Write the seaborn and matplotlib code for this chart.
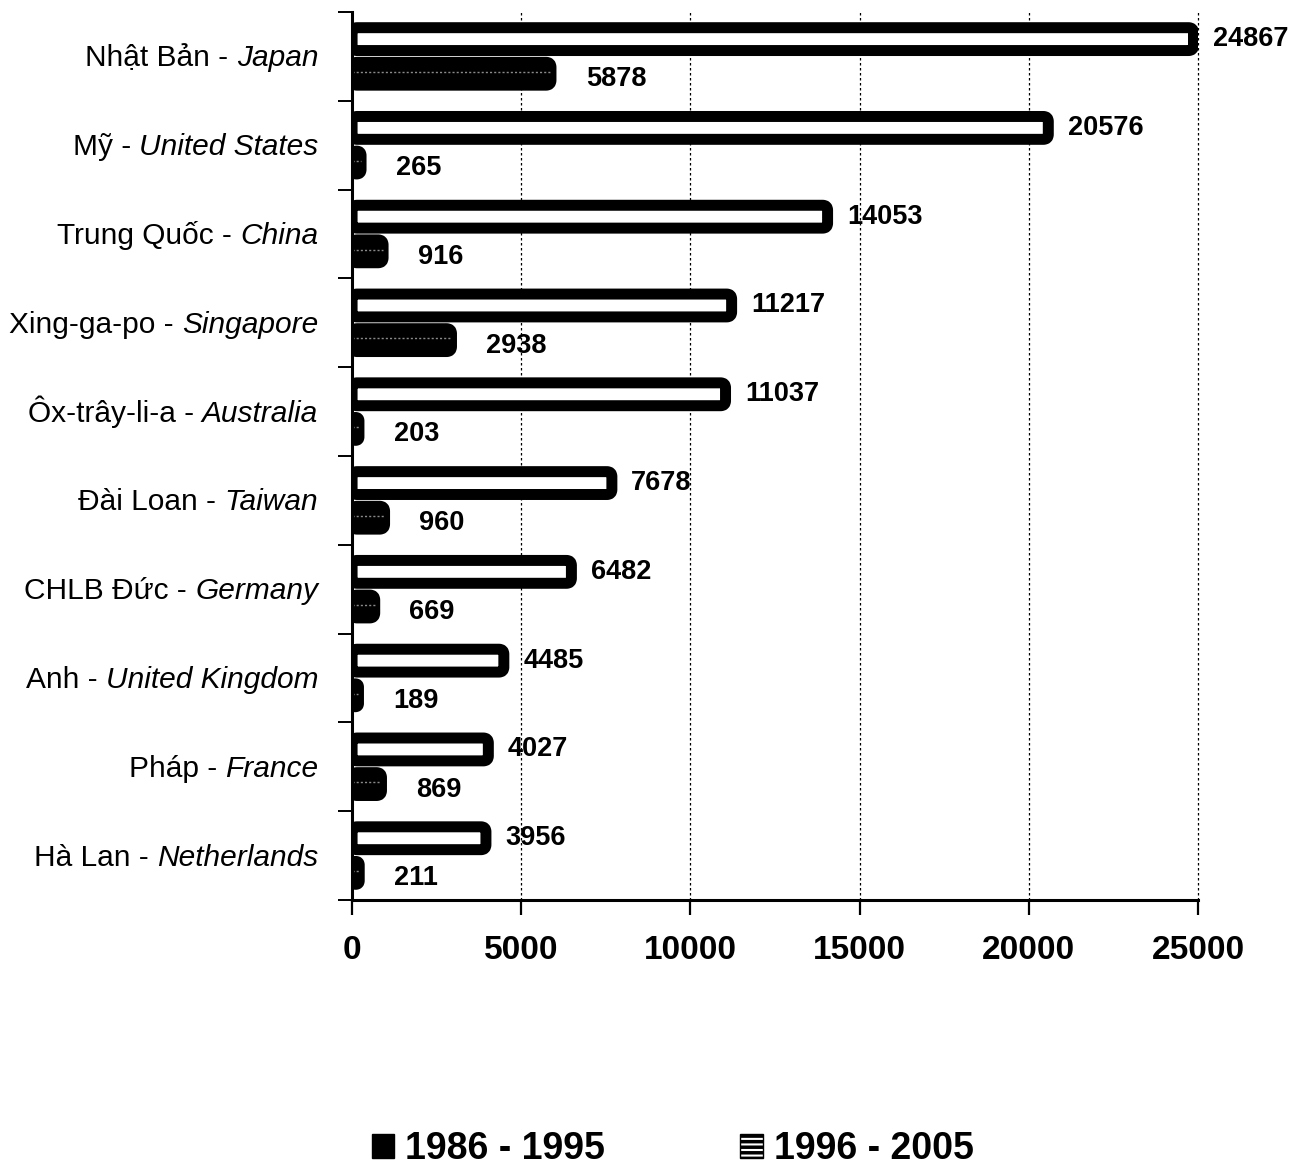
import matplotlib
matplotlib.use("Agg")
import matplotlib.pyplot as plt
import matplotlib.transforms as mtransforms
from matplotlib.patches import Patch, FancyBboxPatch
import numpy as np
import pandas as pd
import seaborn as sns

# Partner names (Vietnamese part, English part) and FDI totals per period
countries_vi = ["Nhật Bản", "Mỹ", "Trung Quốc", "Xing-ga-po", "Ôx-trây-li-a",
                "Đài Loan", "CHLB Đức", "Anh", "Pháp", "Hà Lan"]
countries_en = ["Japan", "United States", "China", "Singapore", "Australia",
                "Taiwan", "Germany", "United Kingdom", "France", "Netherlands"]
period_late = "1996 - 2005"
period_early = "1986 - 1995"
fdi_1996_2005 = [24867, 20576, 14053, 11217, 11037, 7678, 6482, 4485, 4027, 3956]
fdi_1986_1995 = [5878, 265, 916, 2938, 203, 960, 669, 189, 869, 211]
x_ticks = [0, 5000, 10000, 15000, 20000, 25000]

sns.set_style("white")
plt.rcParams["font.family"] = ["Liberation Sans", "DejaVu Sans"]
plt.rcParams["text.color"] = "black"
plt.rcParams["hatch.linewidth"] = 2.5

df = pd.DataFrame({
    "country": countries_en * 2,
    "period": [period_late] * len(countries_en) + [period_early] * len(countries_en),
    "value": fdi_1996_2005 + fdi_1986_1995,
})

fig = plt.figure(figsize=(13.04, 11.68), dpi=100)
ax_rect = [0.270, 0.2295, 0.6487, 0.7602]
ax = fig.add_axes(ax_rect)

sns.barplot(data=df, y="country", x="value", hue="period",
            order=countries_en, hue_order=[period_late, period_early],
            palette={period_late: "white", period_early: "black"},
            orient="h", width=0.78, saturation=1, legend=False,
            edgecolor="black", linewidth=7.9, ax=ax)

n = len(countries_en)
x_max = 25000
ax.set_xlim(0, x_max)
ax.set_ylim(n - 0.5, -0.5)

# Pixel scale of each data unit, used to give the bars rounded tube ends
px_per_x = ax_rect[2] * fig.get_figwidth() * fig.dpi / x_max
px_per_y = ax_rect[3] * fig.get_figheight() * fig.dpi / n
aspect = px_per_x / px_per_y
corner_px = 5.0

for container in ax.containers:
    for patch in container:
        x0, w = patch.get_x(), patch.get_width()
        h = patch.get_height()
        new_h = h * 0.66
        y0 = patch.get_y() + (h - new_h) / 2
        r_px = min(corner_px, new_h * px_per_y / 2, w * px_per_x / 2)
        tube = FancyBboxPatch(
            (x0, y0), w, new_h,
            boxstyle=f"round,pad=0,rounding_size={r_px / px_per_x}",
            mutation_aspect=aspect,
            facecolor=patch.get_facecolor(), edgecolor="black",
            linewidth=7.9, joinstyle="round", zorder=patch.get_zorder())
        patch.set_visible(False)
        ax.add_patch(tube)

# Faint highlight streak along the dark bars
for patch in ax.containers[1]:
    cy = patch.get_y() + patch.get_height() * 0.45
    ax.plot([patch.get_x(), patch.get_x() + patch.get_width()], [cy, cy],
            color="#8a8a8a", lw=1.0, ls=(0, (1.5, 1.5)),
            zorder=patch.get_zorder() + 0.1)

# Value labels
for patch, v in zip(ax.containers[0], fdi_1996_2005):
    cy = patch.get_y() + patch.get_height() / 2
    ax.annotate(f"{v}", xy=(v, cy), xytext=(14, 0), textcoords="offset points",
                ha="left", va="center", fontsize=19.5, fontweight="bold",
                color="black", annotation_clip=False)
for patch, v in zip(ax.containers[1], fdi_1986_1995):
    cy = patch.get_y() + patch.get_height() / 2
    ax.annotate(f"{v}", xy=(v, cy), xytext=(25, -4), textcoords="offset points",
                ha="left", va="center", fontsize=19.5, fontweight="bold",
                color="black", annotation_clip=False)

# Ticks, grid and spines
ax.set_xticks(x_ticks)
ax.set_xticklabels([str(t) for t in x_ticks])
for lbl in ax.get_xticklabels():
    lbl.set_fontweight("bold")
ax.set_yticks(np.arange(-0.5, n, 1.0))
ax.set_yticklabels([])
ax.set_xlabel("")
ax.set_ylabel("")

ax.xaxis.grid(True, color="black", lw=0.9, ls=(0, (2, 2)))
ax.yaxis.grid(False)
ax.set_axisbelow(True)
for gl in ax.get_xgridlines():
    gl.set_clip_on(False)

ax.spines["top"].set_visible(False)
ax.spines["right"].set_visible(False)
for side in ("left", "bottom"):
    ax.spines[side].set_linewidth(2.2)
    ax.spines[side].set_color("black")

ax.tick_params(axis="x", direction="out", length=11, width=1.6, pad=14,
               labelsize=24, colors="black", bottom=True)
ax.tick_params(axis="y", direction="out", length=10, width=1.4, left=True,
               colors="black")

# Category labels: Vietnamese in regular, English in italic
for i, (vi, en) in enumerate(zip(countries_vi, countries_en)):
    trans = mtransforms.offset_copy(ax.get_yaxis_transform(), fig=fig,
                                    x=-34, y=-10, units="dots")
    it = ax.text(0, i, en, transform=trans, ha="right", va="baseline",
                 fontsize=21.5, fontstyle="italic", color="black")
    ax.annotate(vi + " -", xy=(0, i), xycoords=(it, trans),
                xytext=(-8, 0), textcoords="offset pixels",
                ha="right", va="baseline", fontsize=21.5, color="black")

# Legend
handles = [
    Patch(facecolor="black", edgecolor="black", label=period_early),
    Patch(facecolor="white", edgecolor="black", hatch="---", label=period_late),
]
fig.legend(handles=handles, loc="center", bbox_to_anchor=(0.516, 0.016),
           ncol=2, frameon=False, prop={"weight": "bold", "size": 27},
           handlelength=0.6, handleheight=0.6, handletextpad=0.3,
           columnspacing=3.6, labelcolor="black")

fig.savefig("out.png", dpi=100)
